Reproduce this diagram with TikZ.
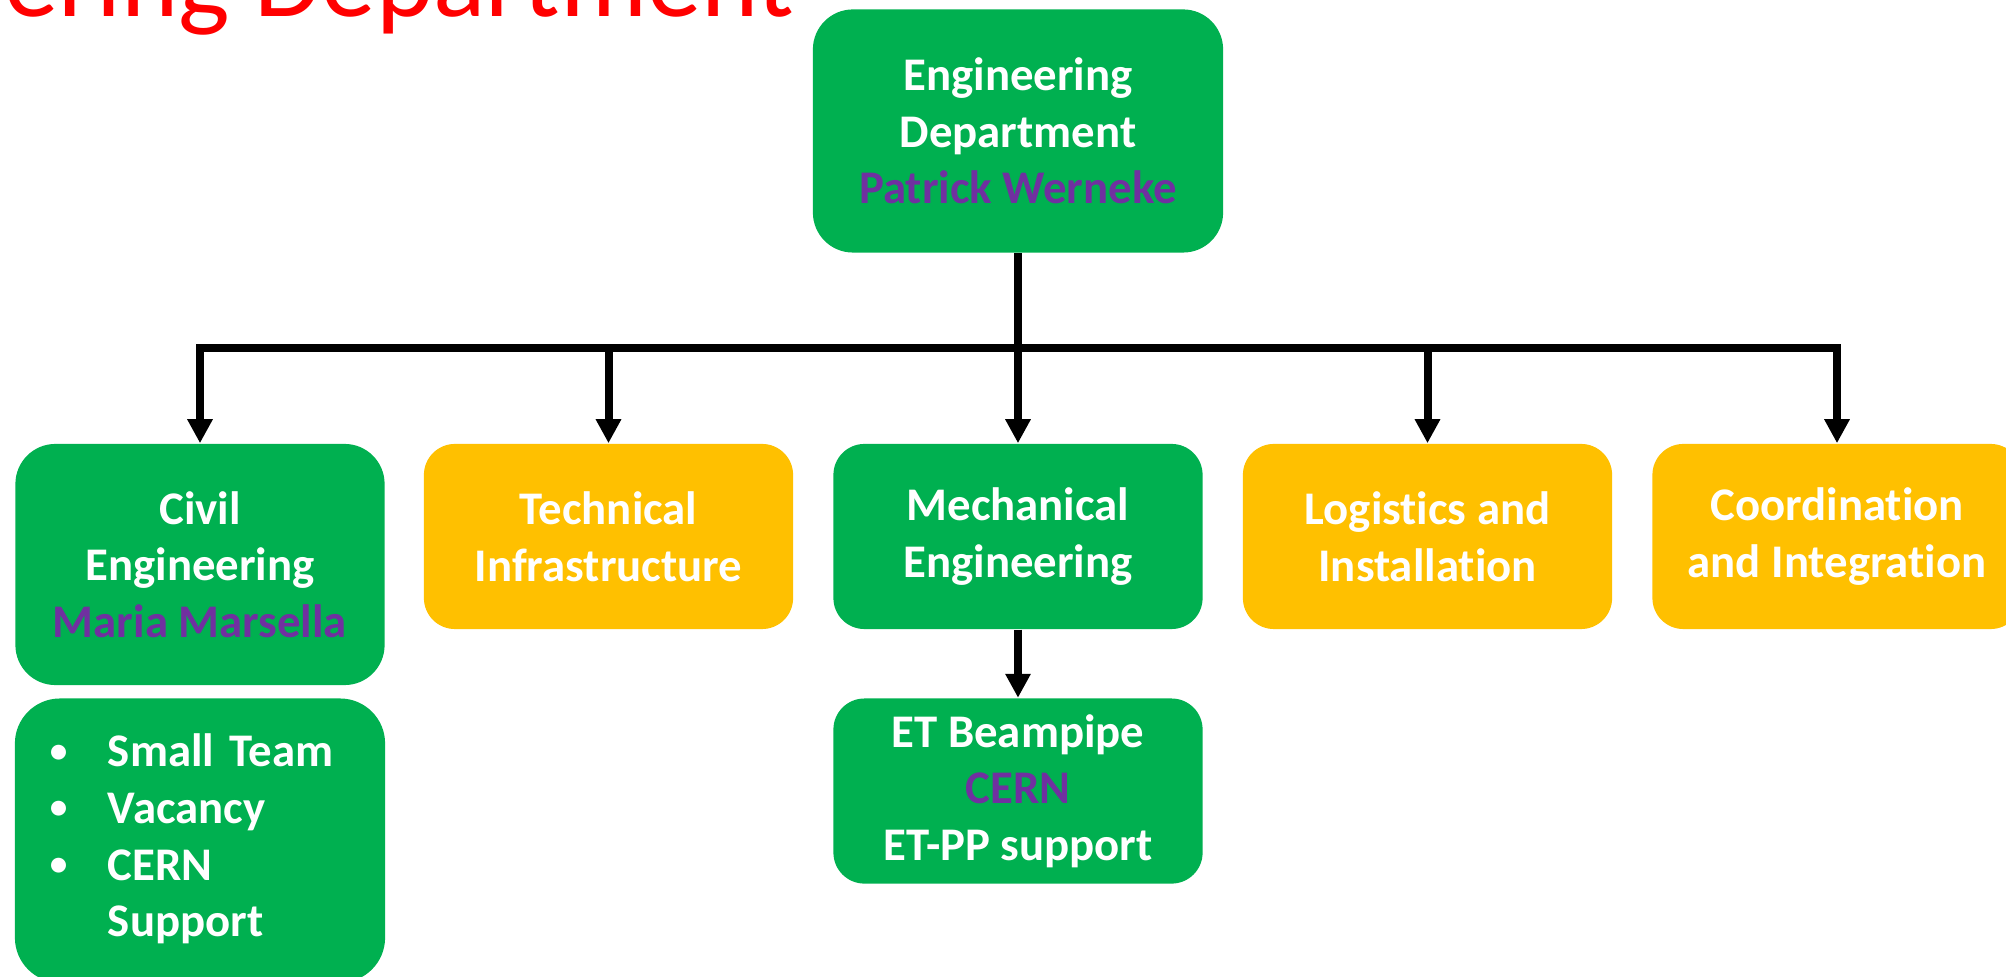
\documentclass[tikz,border=0pt]{standalone}
\usepackage{fontspec}
\setmainfont[Ligatures=NoCommon]{Carlito}
\usetikzlibrary{arrows.meta,positioning}

\definecolor{unitgreen}{HTML}{00B050}
\definecolor{unitgold}{HTML}{FFC000}
\definecolor{headpurple}{HTML}{7030A0}

\tikzset{
  unit/.style={rounded corners=0.31cm, text=white, align=center, inner sep=0pt,
    minimum width=3.69cm, minimum height=1.85cm,
    font=\bfseries\fontsize{13.3}{16.1}\selectfont},
  green unit/.style={unit, fill=unitgreen},
  gold unit/.style={unit, fill=unitgold},
  link/.style={line width=0.08cm, -{Triangle[width=0.24cm,length=0.24cm]}},
}

\newcommand{\headname}[1]{\textcolor{headpurple}{#1}}
\newcommand{\dotitem}{\raisebox{1.4pt}{\fontsize{10}{12}\selectfont\textbullet}}

\begin{document}
\begin{tikzpicture}[x=0.01cm, y=-0.01cm]
  \useasboundingbox (0,0) rectangle (2006,977);

  \node[anchor=base east, inner sep=0pt, text=red,
        font=\fontsize{31}{37}\selectfont] (title) at (795,17) {Engineering Department};

  \node[green unit, minimum width=4.10cm, minimum height=2.43cm, rounded corners=0.4cm]
    (dept) at (1018,131) {Engineering\\Department\\\headname{Patrick Werneke}};

  \coordinate (bar) at (0,348);

  \node[green unit, minimum height=2.41cm, rounded corners=0.4cm]
    (civil) at (200,564.5) {Civil\\Engineering\\\headname{Maria Marsella}};
  \node[gold unit] (techinfra) at (608.5,536.5) {Technical\\Infrastructure};
  \node[green unit] (mech) at (1018,536.5) {Mechanical\\Engineering};
  \node[gold unit] (logistics) at (1427.5,536.5) {Logistics and\\Installation};
  \node[gold unit] (coord) at (1837,536.5) {Coordination\\and Integration};

  \node[green unit, below=0.12cm of civil, minimum height=2.84cm, rounded corners=0.45cm,
        align=left, text width=3.0cm, inner xsep=0.35cm] (civilteam)
    {\begin{tabular}{@{}p{0.58cm}@{}l@{}}
       \dotitem & Small Team\\
       \dotitem & Vacancy\\
       \dotitem & CERN\\
                & Support
     \end{tabular}};
  \node[green unit, below=0.68cm of mech] (beampipe)
    {ET Beampipe\\\headname{CERN}\\ET-PP support};

  % department to each unit
  \foreach \unit in {civil,techinfra,mech,logistics,coord}
    \draw[link] (dept.south) -- (dept.south |- bar) -| (\unit.north);
  \draw[link] (mech) -- (beampipe);
\end{tikzpicture}
\end{document}
